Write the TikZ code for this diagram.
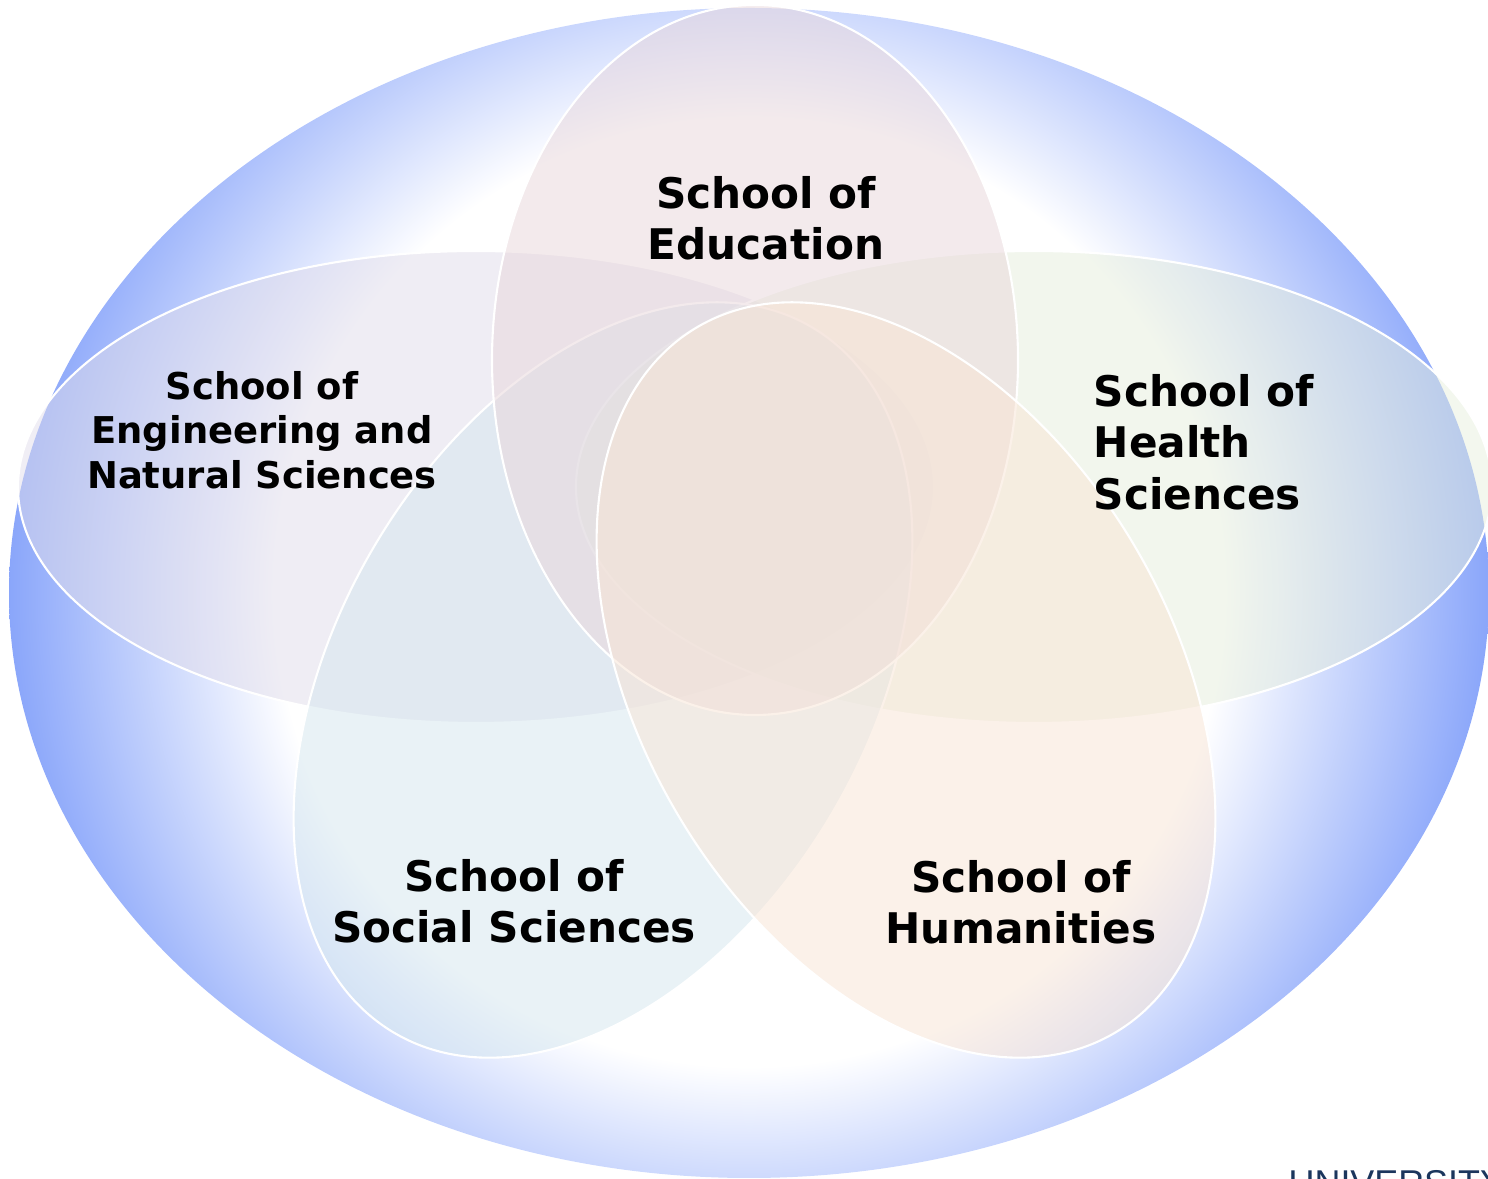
\documentclass[tikz,border=0pt]{standalone}
\usepackage{fontspec}
\usepackage{xcolor}

\newfontfamily\schoolfont{DejaVu Sans}
\newfontfamily\unifont{Liberation Sans}

\definecolor{rimblue}{RGB}{138,166,250}
\definecolor{educol}{RGB}{233,215,219}
\definecolor{engcol}{RGB}{225,221,235}
\definecolor{healthcol}{RGB}{231,239,221}
\definecolor{socialcol}{RGB}{213,231,239}
\definecolor{humcol}{RGB}{249,229,213}
\definecolor{uninavy}{RGB}{27,54,93}

% white in the middle, blue towards the rim
\pgfdeclareradialshading{rimglow}{\pgfpointorigin}{color(0bp)=(white); color(16bp)=(white); color(25bp)=(rimblue); color(50bp)=(rimblue)}

\begin{document}
\begin{tikzpicture}[x=0.01cm,y=0.01cm,
  petal/.style={draw=white, line width=0.6pt, fill opacity=0.5},
  school/.style={font=\schoolfont\bfseries\fontsize{12}{14.6}\selectfont, align=center, inner sep=0pt}]
\useasboundingbox (0,0) rectangle (1488,1179);

% outer ring
\begin{scope}
  \clip (749,586) ellipse [x radius=740, y radius=585];
  \shade[shading=rimglow] (749,586) circle [radius=740];
\end{scope}

% the five schools, back to front
\foreach \cx/\col in {476/engcol,1034/healthcol}
  \draw[petal, fill=\col] (\cx,692) ellipse [x radius=458, y radius=236];
\draw[petal, fill=socialcol, rotate around={59.3:(603,499)}] (603,499) ellipse [x radius=410, y radius=265];
\draw[petal, fill=educol] (755,819) ellipse [x radius=263, y radius=355];
\draw[petal, fill=humcol, rotate around={120.7:(906,499)}] (906,499) ellipse [x radius=410, y radius=265];

\node[school] (edu) at (766,961) {School of\\Education};
\node[school, font=\schoolfont\bfseries\fontsize{10.5}{12.6}\selectfont] (eng) at (262,749) {School of\\Engineering and\\Natural Sciences};
\node[school, align=left, anchor=west] (health) at (1093,737) {School of\\Health\\Sciences};
\node[school] (social) at (514,278) {School of\\Social Sciences};
\node[school] (hum) at (1021,277) {School of\\Humanities};

% name line running off the bottom edge
\node[anchor=base west, inner sep=0pt, text=uninavy, font=\unifont\fontsize{10.2}{12}\selectfont] (uni) at (1288,-17) {UNIVERSITY};
\end{tikzpicture}
\end{document}
